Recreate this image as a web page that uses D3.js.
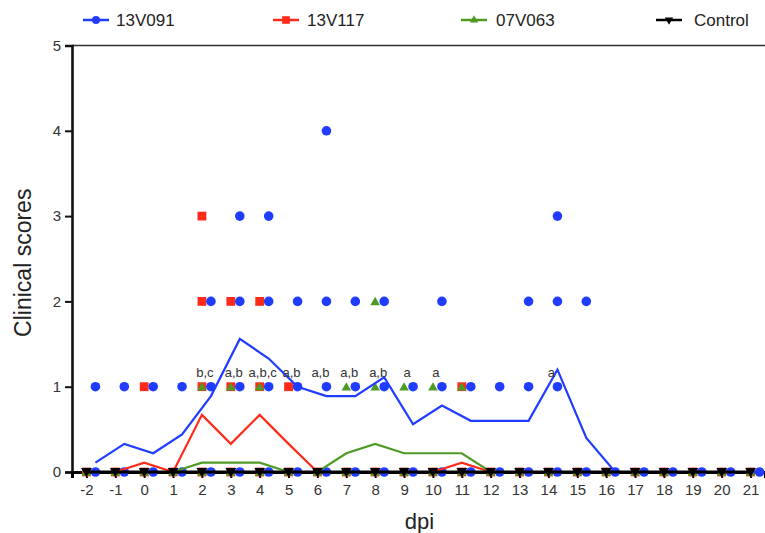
<!DOCTYPE html>
<html>
<head>
<meta charset="utf-8">
<script src="https://cdn.jsdelivr.net/npm/d3@7"></script>
<style>
  html, body { margin: 0; padding: 0; background: #fff; }
  svg { display: block; }
  text { font-family: "Liberation Sans", Arial, Helvetica, sans-serif; }
</style>
</head>
<body>
<svg id="chart" width="765" height="533"></svg>
<script>
// ---------------- data ----------------
const dpi = [-2,-1,0,1,2,3,4,5,6,7,8,9,10,11,12,13,14,15,16,17,18,19,20,21];

// group means (lines)
const meanV091 = [0.11,0.33,0.22,0.44,0.89,1.56,1.33,1.0,0.89,0.89,1.11,0.56,0.78,0.6,0.6,0.6,1.2,0.4,0,0,0,0,0,0];
const meanV117 = [0,0,0.11,0,0.67,0.33,0.67,0.33,0,0,0,0,0,0.11,0,0,0,0,0,0,0,0,0,0];
const meanV063 = [0,0,0,0,0.11,0.11,0.11,0,0,0.22,0.33,0.22,0.22,0.22,0,0,0,0,0,0,0,0,0,0];
const meanControl = [0,0,0,0,0,0,0,0,0,0,0,0,0,0,0,0,0,0,0,0,0,0,0,0];

// individual score levels observed per dpi (same order as dpi)
const scoresV091 = [[0,1],[0,1],[0,1],[0,1],[0,1,2],[0,1,2,3],[0,1,2,3],[0,1,2],[0,1,2,4],[0,1,2],[0,1,2],[0,1],[0,1,2],[0,1],[0,1],[0,1,2],[0,1,2,3],[0,2],[0],[0],[0],[0],[0],[0]];
const scoresV117 = [[0],[0],[0,1],[0],[0,1,2,3],[0,1,2],[0,1,2],[0,1],[0],[0],[0],[0],[0],[0,1],[0],[0],[0],[0],[0],[0],[0],[0],[0],[0]];
const scoresV063 = [[0],[0],[0],[0],[0,1],[0,1],[0,1],[0],[0],[0,1],[0,1,2],[0,1],[0,1],[0,1],[0],[0],[0],[0],[0],[0],[0],[0],[0],[0]];
const scoresControl = [[0],[0],[0],[0],[0],[0],[0],[0],[0],[0],[0],[0],[0],[0],[0],[0],[0],[0],[0],[0],[0],[0],[0],[0]];

// significance letters
const sigDpi = [2,3,4,5,6,7,8,9,10,14];
const sigLabels = ["b,c","a,b","a,b,c","a,b","a,b","a,b","a,b","a","a","a"];

const yTicks = [0,1,2,3,4,5];
const groupNames = ["13V091","13V117","07V063","Control"];
const colors = ["#1f3cff","#ff2a1a","#4e9a24","#000000"];

// ---------------- chart ----------------
const svg = d3.select("#chart");
const x = d3.scaleLinear().domain([-2.5, 21.5]).range([72, 765]);
const y = d3.scaleLinear().domain([0, 5]).range([472, 45.5]);

const blueOffset = 9; // px shift of 13V091 markers

// top frame line
svg.append("line")
  .attr("x1", 72).attr("x2", 765)
  .attr("y1", y(5)).attr("y2", y(5))
  .attr("stroke", "#333").attr("stroke-width", 1.6);

// Y axis
const yAxis = svg.append("g")
  .attr("transform", "translate(72,0)")
  .call(d3.axisLeft(y).tickValues(yTicks).tickFormat(d => String(d)).tickSize(7).tickPadding(4));
yAxis.select(".domain").attr("stroke", "#111").attr("stroke-width", 2.6);
yAxis.selectAll(".tick line").attr("stroke", "#111").attr("stroke-width", 2);
yAxis.selectAll(".tick text").attr("font-size", 15).attr("fill", "#333")
  .attr("font-family", "'Liberation Sans', Arial, sans-serif");

// X axis
const xAxis = svg.append("g")
  .attr("transform", `translate(0,${y(0)})`)
  .call(d3.axisBottom(x).tickValues(dpi).tickFormat(d => String(d)).tickSize(6).tickPadding(6));
xAxis.select(".domain").attr("stroke", "#000").attr("stroke-width", 3);
xAxis.selectAll(".tick line").attr("stroke", "#000").attr("stroke-width", 2);
xAxis.selectAll(".tick text").attr("font-size", 15).attr("fill", "#333")
  .attr("font-family", "'Liberation Sans', Arial, sans-serif");

// axis titles
svg.append("text")
  .attr("transform", `translate(31,${(y(0)+y(5))/2 + 4}) rotate(-90)`)
  .attr("text-anchor", "middle")
  .attr("font-size", 23).attr("fill", "#222")
  .text("Clinical scores");
svg.append("text")
  .attr("x", x(9.5) + 1).attr("y", 529)
  .attr("text-anchor", "middle")
  .attr("font-size", 22).attr("fill", "#222")
  .text("dpi");

// helpers
function flatten(scores) {
  const out = [];
  scores.forEach((lv, i) => lv.forEach(s => out.push({d: dpi[i], s})));
  return out;
}
const lineGen = d3.line().x(d => d.x).y(d => d.y);

// points: red squares
const gPts = svg.append("g");
gPts.selectAll(".p117").data(flatten(scoresV117)).enter().append("rect")
  .attr("x", d => x(d.d) - 4.4).attr("y", d => y(d.s) - 4.4)
  .attr("width", 8.8).attr("height", 8.8).attr("fill", colors[1]);
// green triangles
gPts.selectAll(".p063").data(flatten(scoresV063)).enter().append("path")
  .attr("d", d3.symbol().type(d3.symbolTriangle).size(40))
  .attr("transform", d => `translate(${x(d.d)},${y(d.s) + 1})`)
  .attr("fill", colors[2]);
// blue circles
gPts.selectAll(".p091").data(flatten(scoresV091)).enter().append("circle")
  .attr("cx", d => x(d.d) + blueOffset).attr("cy", d => y(d.s))
  .attr("r", 4.8).attr("fill", colors[0]);

// mean lines
const meanSets = [meanV091, meanV117, meanV063];
meanSets.forEach((m, k) => {
  const pts = m.map((v, i) => ({x: x(dpi[i]) + (k === 0 ? blueOffset : 0), y: y(v)}));
  svg.append("path").attr("d", lineGen(pts))
    .attr("fill", "none").attr("stroke", colors[k]).attr("stroke-width", 2.2);
});

// control line and markers
svg.append("path")
  .attr("d", lineGen(meanControl.map((v, i) => ({x: x(dpi[i]), y: y(v)}))))
  .attr("fill", "none").attr("stroke", "#000").attr("stroke-width", 3);
svg.append("g").selectAll("path").data(flatten(scoresControl)).enter().append("path")
  .attr("d", d3.symbol().type(d3.symbolTriangle).size(50))
  .attr("transform", d => `translate(${x(d.d)},${y(d.s) - 1}) rotate(180)`)
  .attr("fill", "#000");

// significance labels
svg.append("g").selectAll("text").data(sigDpi).enter().append("text")
  .attr("x", d => x(d) + 3).attr("y", y(1) - 10)
  .attr("text-anchor", "middle")
  .attr("font-size", 13).attr("fill", "#333")
  .text((d, i) => sigLabels[i]);

// legend
const legX = [96, 286, 474, 669];
const legTextX = [116, 307, 496, 694];
const leg = svg.append("g");
groupNames.forEach((name, k) => {
  const cx = legX[k], cy = 20;
  leg.append("line").attr("x1", cx - 13).attr("x2", cx + 13).attr("y1", cy).attr("y2", cy)
    .attr("stroke", colors[k]).attr("stroke-width", 2.5);
  if (k === 0) leg.append("circle").attr("cx", cx).attr("cy", cy).attr("r", 4).attr("fill", colors[k]);
  if (k === 1) leg.append("rect").attr("x", cx - 3.8).attr("y", cy - 3.8).attr("width", 7.6).attr("height", 7.6).attr("fill", colors[k]);
  if (k === 2) leg.append("path").attr("d", d3.symbol().type(d3.symbolTriangle).size(30)).attr("transform", `translate(${cx},${cy})`).attr("fill", colors[k]);
  if (k === 3) leg.append("path").attr("d", d3.symbol().type(d3.symbolTriangle).size(30)).attr("transform", `translate(${cx},${cy}) rotate(180)`).attr("fill", colors[k]);
  leg.append("text").attr("x", legTextX[k]).attr("y", cy + 6)
    .attr("font-size", 17).attr("fill", "#222").text(name);
});
</script>
</body>
</html>
